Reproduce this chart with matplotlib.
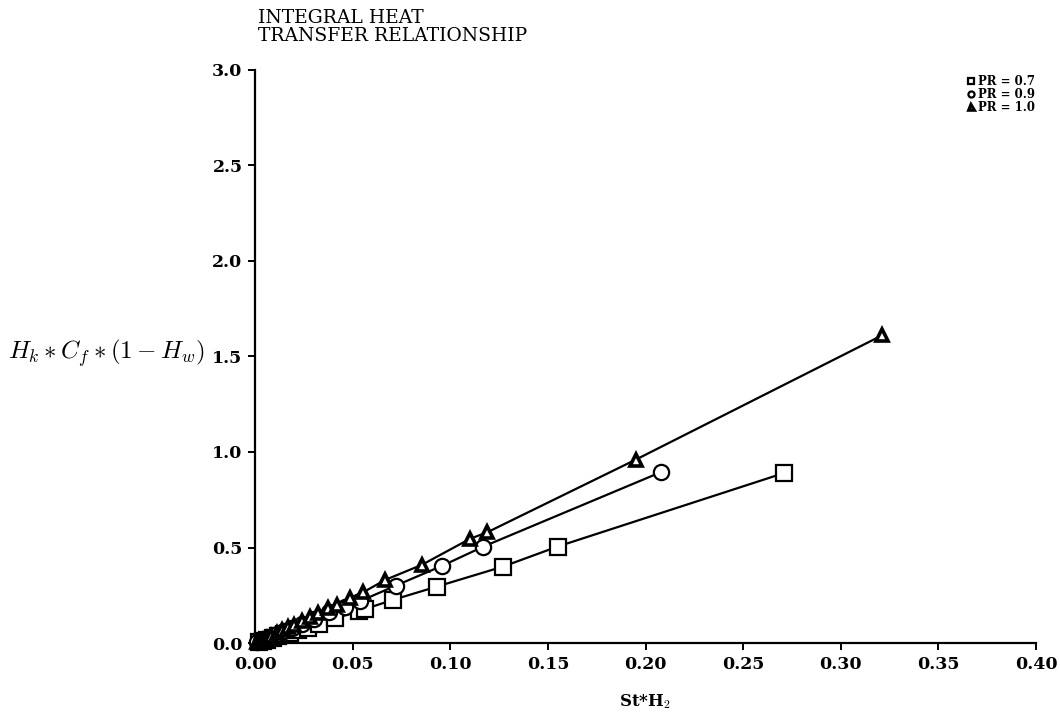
import matplotlib.pyplot as plt

# Integral heat transfer relationship, three Prandtl numbers
st_h2_07 = [0.002, 0.004, 0.006, 0.009, 0.012, 0.015, 0.018, 0.022, 0.027, 0.033,
            0.041, 0.053, 0.0563, 0.0707, 0.093, 0.127, 0.155, 0.271]
hk_07 = [0.006, 0.012, 0.018, 0.027, 0.036, 0.045, 0.054, 0.066, 0.080, 0.100,
         0.130, 0.165, 0.178, 0.226, 0.295, 0.400, 0.505, 0.890]

st_h2_09 = [0.001, 0.003, 0.005, 0.008, 0.011, 0.015, 0.019, 0.024, 0.030, 0.038,
            0.046, 0.054, 0.072, 0.096, 0.117, 0.208]
hk_09 = [0.004, 0.012, 0.020, 0.033, 0.046, 0.062, 0.080, 0.100, 0.125, 0.160,
         0.190, 0.220, 0.300, 0.405, 0.505, 0.895]

st_h2_10 = [0.001, 0.002, 0.004, 0.006, 0.008, 0.011, 0.014, 0.017, 0.020, 0.024,
            0.028, 0.032, 0.0374, 0.042, 0.0487, 0.0553, 0.0666, 0.0856, 0.110,
            0.119, 0.195, 0.321]
hk_10 = [0.004, 0.009, 0.018, 0.028, 0.038, 0.052, 0.066, 0.082, 0.096, 0.115,
         0.137, 0.158, 0.185, 0.200, 0.237, 0.265, 0.330, 0.410, 0.545,
         0.580, 0.960, 1.610]

labels = ['PR = 0.7', 'PR = 0.9', 'PR = 1.0']

serif = ['DejaVu Serif']
plt.rcParams['font.family'] = serif
plt.rcParams['mathtext.fontset'] = 'cm'

fig = plt.figure(figsize=(10.6, 7.17), dpi=100)
ax = fig.add_axes([0.2406, 0.1032, 0.7368, 0.7992])

ax.plot(st_h2_07, hk_07, color='black', lw=1.6, marker='s', ms=11,
        mfc='white', mec='black', mew=1.6, clip_on=False, label=labels[0])
ax.plot(st_h2_09, hk_09, color='black', lw=1.6, marker='o', ms=11,
        mfc='white', mec='black', mew=1.6, clip_on=False, label=labels[1])
ax.plot(st_h2_10, hk_10, color='black', lw=1.6, marker='^', ms=9,
        mfc='white', mec='black', mew=2.6, clip_on=False, label=labels[2])

ax.set_xlim(0, 0.40)
ax.set_ylim(0, 3.0)
ax.set_xticks([0.00, 0.05, 0.10, 0.15, 0.20, 0.25, 0.30, 0.35, 0.40])
ax.set_xticklabels(['0.00', '0.05', '0.10', '0.15', '0.20', '0.25', '0.30', '0.35', '0.40'])
ax.set_yticks([0.0, 0.5, 1.0, 1.5, 2.0, 2.5, 3.0])
ax.set_yticklabels(['0.0', '0.5', '1.0', '1.5', '2.0', '2.5', '3.0'])

for s in ['top', 'right']:
    ax.spines[s].set_visible(False)
for s in ['left', 'bottom']:
    ax.spines[s].set_linewidth(1.6)
ax.tick_params(direction='out', length=5, width=1.4, labelsize=12.5, pad=4)
for t in ax.get_xticklabels() + ax.get_yticklabels():
    t.set_fontweight('bold')

ax.set_xlabel('St*H$_\\mathbf{2}$', fontsize=12, fontweight='bold', labelpad=14)
fig.text(0.008, 0.508, r'$H_k * C_f * (1 - H_w)$', fontsize=18, va='center', ha='left')

fig.text(0.243, 0.937, 'INTEGRAL HEAT\nTRANSFER RELATIONSHIP', fontsize=13.5,
         ha='left', va='bottom', linespacing=1.0)

leg = ax.legend(loc='upper right', bbox_to_anchor=(1.005, 1.0), frameon=False,
                fontsize=8.5, markerscale=0.4, handlelength=0.4, handletextpad=0.4,
                labelspacing=0.0, borderaxespad=0.0)
for t in leg.get_texts():
    t.set_fontweight('bold')
for h in leg.get_lines():
    h.set_linestyle('none')

fig.savefig('out.png', dpi=100)
